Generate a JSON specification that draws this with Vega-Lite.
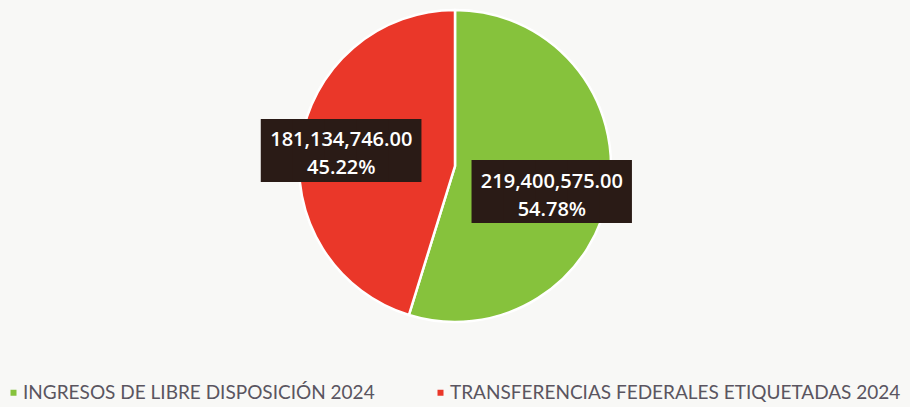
{
  "$schema": "https://vega.github.io/schema/vega-lite/v6.json",
  "width": 910,
  "height": 407,
  "autosize": {"type": "fit", "contains": "padding"},
  "padding": 0,
  "background": "#f8f8f6",
  "data": {
    "values": [
      {"concepto": "INGRESOS DE LIBRE DISPOSICIÓN 2024", "monto": 219400575.00, "etiqueta": ["219,400,575.00", "54.78%"]},
      {"concepto": "TRANSFERENCIAS FEDERALES ETIQUETADAS 2024", "monto": 181134746.00, "etiqueta": ["181,134,746.00", "45.22%"]}
    ]
  },
  "encoding": {
    "theta": {"field": "monto", "type": "quantitative", "stack": true},
    "order": {"field": "concepto", "type": "nominal", "sort": "ascending"}
  },
  "layer": [
    {
      "mark": {"type": "arc", "outerRadius": 156, "stroke": "#ffffff", "strokeWidth": 2.5},
      "encoding": {
        "color": {
          "field": "concepto",
          "type": "nominal",
          "scale": {"domain": ["INGRESOS DE LIBRE DISPOSICIÓN 2024", "TRANSFERENCIAS FEDERALES ETIQUETADAS 2024"], "range": ["#86c23c", "#ea3729"]},
          "legend": {
            "title": null,
            "orient": "bottom",
            "direction": "horizontal",
            "offset": 47,
            "padding": 4,
            "symbolType": "square",
            "symbolSize": 36,
            "symbolStrokeWidth": 0,
            "labelFont": "Lato",
            "labelFontSize": 19,
            "labelColor": "#5a5560",
            "labelLimit": 600,
            "columnPadding": 56,
            "labelOffset": 0
          }
        }
      }
    },
    {
      "mark": {"type": "text", "text": "█████", "font": "DejaVu Sans Mono", "fontSize": 53, "radius": 115, "dy": 4, "color": "#2a1b16", "baseline": "middle", "align": "center"},
      "encoding": {
        "detail": {"field": "concepto", "type": "nominal"},
        "opacity": {"condition": {"test": "datum.concepto === 'TRANSFERENCIAS FEDERALES ETIQUETADAS 2024'", "value": 1}, "value": 0}
      }
    },
    {
      "mark": {"type": "text", "text": "█████", "font": "DejaVu Sans Mono", "fontSize": 53, "radius": 98, "dy": 13, "color": "#2a1b16", "baseline": "middle", "align": "center"},
      "encoding": {
        "detail": {"field": "concepto", "type": "nominal"},
        "opacity": {"condition": {"test": "datum.concepto === 'INGRESOS DE LIBRE DISPOSICIÓN 2024'", "value": 1}, "value": 0}
      }
    },
    {
      "mark": {"type": "text", "font": "Open Sans", "fontSize": 20, "fontWeight": 600, "lineHeight": 28, "radius": 115, "dy": -9, "color": "#ffffff", "baseline": "middle", "align": "center"},
      "encoding": {
        "text": {"field": "etiqueta"},
        "detail": {"field": "concepto", "type": "nominal"},
        "opacity": {"condition": {"test": "datum.concepto === 'TRANSFERENCIAS FEDERALES ETIQUETADAS 2024'", "value": 1}, "value": 0}
      }
    },
    {
      "mark": {"type": "text", "font": "Open Sans", "fontSize": 20, "fontWeight": 600, "lineHeight": 28, "radius": 98, "dy": 1, "color": "#ffffff", "baseline": "middle", "align": "center"},
      "encoding": {
        "text": {"field": "etiqueta"},
        "detail": {"field": "concepto", "type": "nominal"},
        "opacity": {"condition": {"test": "datum.concepto === 'INGRESOS DE LIBRE DISPOSICIÓN 2024'", "value": 1}, "value": 0}
      }
    }
  ]
}
